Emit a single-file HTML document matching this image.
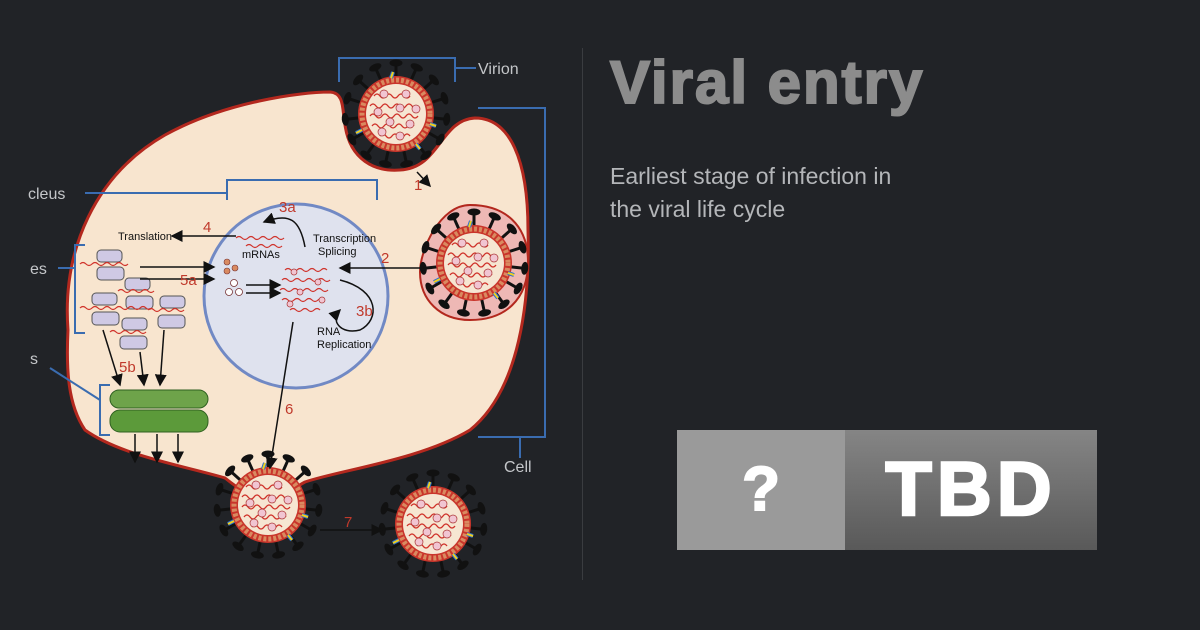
<!DOCTYPE html>
<html><head><meta charset="utf-8"><style>
body{margin:0;width:1200px;height:630px;background:#212327;overflow:hidden;position:relative;font-family:"Liberation Sans",sans-serif}
#title{position:absolute;left:610px;top:48px;font-size:60px;font-weight:900;color:#8c8c8c;letter-spacing:2px;-webkit-text-stroke:2px #8c8c8c}
#sub{position:absolute;left:610px;top:160px;font-size:23px;line-height:33px;color:#b4b6b9}
#div{position:absolute;left:582px;top:48px;width:1px;height:532px;background:#3a3c40}
#b1{position:absolute;left:677px;top:430px;width:168px;height:120px;background:#9a9a9a;color:#fff;font-size:62px;font-weight:bold;text-align:center;line-height:120px;-webkit-text-stroke:2px #fff}
#b2{position:absolute;left:845px;top:430px;width:252px;height:120px;background:linear-gradient(#858585,#595959);color:#fff;font-size:76px;font-weight:bold;text-align:center;line-height:120px;letter-spacing:5px;-webkit-text-stroke:2.5px #fff}
</style></head><body>
<svg width="583" height="630" style="position:absolute;left:0;top:0" font-family="Liberation Sans, sans-serif">
<defs>
<g id="sp"><line x1="0" y1="-36" x2="0" y2="-50" stroke="#111" stroke-width="3"/><ellipse cx="0" cy="-51" rx="6.5" ry="3.5" fill="#111"/></g>
<g id="vir">
<use href="#sp"/><use href="#sp" transform="rotate(24)"/><use href="#sp" transform="rotate(48)"/><use href="#sp" transform="rotate(72)"/><use href="#sp" transform="rotate(96)"/><use href="#sp" transform="rotate(120)"/><use href="#sp" transform="rotate(144)"/><use href="#sp" transform="rotate(168)"/><use href="#sp" transform="rotate(192)"/><use href="#sp" transform="rotate(216)"/><use href="#sp" transform="rotate(240)"/><use href="#sp" transform="rotate(264)"/><use href="#sp" transform="rotate(288)"/><use href="#sp" transform="rotate(312)"/><use href="#sp" transform="rotate(336)"/>
<circle r="38" fill="#c9352b"/><circle r="34" fill="none" stroke="#d98a60" stroke-width="5" stroke-dasharray="3 2"/>
<circle r="30" fill="#f6e6d2"/>
<path d="M-22,-18 q3,-4 6,0 t6,0 t6,0 t6,0 t6,0 t6,0 M-26,-8 q3,-4 6,0 t6,0 t6,0 t6,0 t6,0 t6,0 t6,0 t6,0 M-26,2 q3,-4 6,0 t6,0 t6,0 t6,0 t6,0 t6,0 t6,0 t6,0 M-24,12 q3,-4 6,0 t6,0 t6,0 t6,0 t6,0 t6,0 t6,0 M-16,22 q3,-4 6,0 t6,0 t6,0 t6,0 t6,0" fill="none" stroke="#d0322a" stroke-width="1.3"/>
<g fill="#f1c5d2" stroke="#a33" stroke-width=".7"><circle cx="-12" cy="-20" r="4"/><circle cx="10" cy="-20" r="4"/><circle cx="4" cy="-6" r="4"/><circle cx="-18" cy="-2" r="4"/><circle cx="20" cy="-5" r="4"/><circle cx="-6" cy="8" r="4"/><circle cx="14" cy="10" r="4"/><circle cx="-14" cy="18" r="4"/><circle cx="4" cy="22" r="4"/></g>
<g stroke="#2a6fd0" stroke-width="4"><line x1="-5" y1="-36" x2="-3" y2="-42"/><line x1="34" y1="10" x2="40" y2="12"/><line x1="-34" y1="16" x2="-40" y2="19"/><line x1="20" y1="30" x2="24" y2="35"/></g>
<g stroke="#f0d020" stroke-width="2"><line x1="-5" y1="-36" x2="-3" y2="-42"/><line x1="34" y1="10" x2="40" y2="12"/><line x1="-34" y1="16" x2="-40" y2="19"/><line x1="20" y1="30" x2="24" y2="35"/></g>
</g>
<marker id="ar" markerWidth="8" markerHeight="8" refX="7" refY="4" orient="auto"><path d="M0,0 L8,4 L0,8z" fill="#111"/></marker>
</defs>
<path d="M68,330 C62,250 95,175 165,135 C225,102 300,92 330,92 C345,93 342,110 345,125 C350,160 375,172 400,170 C440,168 440,120 475,118 C510,118 528,160 528,230 C530,300 520,390 470,430 C420,460 340,470 305,482 C290,490 280,500 268,500 C255,500 240,490 225,478 C180,465 120,455 85,430 C68,405 66,370 68,330 Z" fill="#f8e5cf" stroke="#b3281e" stroke-width="3"/>
<circle cx="296" cy="296" r="92" fill="#dfe2ee" stroke="#7189c4" stroke-width="3"/>
<path d="M470,205 C440,205 420,250 420,272 C420,300 440,320 470,320 C505,320 528,300 528,262 C528,225 505,205 470,205Z" fill="#eeb8b5" stroke="#b3281e" stroke-width="2"/>
<g transform="translate(474,263)"><use href="#vir"/></g>
<g transform="translate(396,114)"><use href="#vir"/></g>
<g transform="translate(268,505)"><use href="#vir"/></g>
<g transform="translate(433,524)"><use href="#vir"/></g>
<rect x="110" y="390" width="98" height="18" rx="9" fill="#6ea34a" stroke="#2f6020"/>
<rect x="110" y="410" width="98" height="22" rx="10" fill="#5c9a3a" stroke="#2f6020"/>
<g fill="#cfc9e4" stroke="#555" stroke-width="1"><rect x="97" y="250" width="25" height="12" rx="4"/><rect x="97" y="267" width="27" height="13" rx="4"/><rect x="92" y="293" width="25" height="12" rx="4"/><rect x="92" y="312" width="27" height="13" rx="4"/><rect x="125" y="278" width="25" height="12" rx="4"/><rect x="126" y="296" width="27" height="13" rx="4"/><rect x="160" y="296" width="25" height="12" rx="4"/><rect x="158" y="315" width="27" height="13" rx="4"/><rect x="122" y="318" width="25" height="12" rx="4"/><rect x="120" y="336" width="27" height="13" rx="4"/></g>
<path d="M80,264 q3,-3 6,0 t6,0 t6,0 t6,0 t6,0 t6,0 t6,0 t6,0 M80,308 q3,-3 6,0 t6,0 t6,0 t6,0 t6,0 t6,0 t6,0 t6,0 t6,0 t6,0 t6,0 t6,0 M118,291 q3,-3 6,0 t6,0 t6,0 t6,0 t6,0 t6,0 M148,310 q3,-3 6,0 t6,0 t6,0 t6,0 t6,0 t6,0 M110,332 q3,-3 6,0 t6,0 t6,0 t6,0 t6,0 t6,0 M236,238 q3,-3 6,0 t6,0 t6,0 t6,0 t6,0 t6,0 t6,0 t6,0 M246,246 q3,-3 6,0 t6,0 t6,0 t6,0 t6,0 t6,0" fill="none" stroke="#d0322a" stroke-width="1.2"/>
<path d="M285,270 q3,-3 6,0 t6,0 t6,0 t6,0 t6,0 t6,0 t6,0 M282,280 q3,-3 6,0 t6,0 t6,0 t6,0 t6,0 t6,0 t6,0 t6,0 M280,290 q3,-3 6,0 t6,0 t6,0 t6,0 t6,0 t6,0 t6,0 t6,0 M282,300 q3,-3 6,0 t6,0 t6,0 t6,0 t6,0 t6,0 t6,0 M290,310 q3,-3 6,0 t6,0 t6,0 t6,0 t6,0" fill="none" stroke="#d0322a" stroke-width="1.2"/>
<g fill="#f1c5d2" stroke="#a33" stroke-width=".7"><circle cx="294" cy="272" r="3"/><circle cx="318" cy="282" r="3"/><circle cx="300" cy="292" r="3"/><circle cx="322" cy="300" r="3"/><circle cx="290" cy="304" r="3"/></g>
<g fill="#d98a60" stroke="#733" stroke-width=".6"><circle cx="227" cy="262" r="3"/><circle cx="235" cy="268" r="3"/><circle cx="227" cy="271" r="3"/></g>
<g fill="#fff" stroke="#733" stroke-width=".8"><circle cx="234" cy="283" r="3.5"/><circle cx="229" cy="292" r="3.5"/><circle cx="239" cy="292" r="3.5"/></g>
<g stroke="#111" stroke-width="1.5" fill="none" marker-end="url(#ar)">
<line x1="417" y1="172" x2="430" y2="186"/>
<line x1="432" y1="268" x2="340" y2="268"/>
<line x1="236" y1="236" x2="172" y2="236"/>
<line x1="140" y1="267" x2="214" y2="267"/>
<line x1="140" y1="279" x2="214" y2="279"/>
<line x1="246" y1="285" x2="280" y2="285"/>
<line x1="246" y1="293" x2="280" y2="293"/>
<path d="M305,247 C300,220 290,212 264,222"/>
<path d="M340,280 C380,290 380,320 360,330 C340,335 330,320 340,310"/>
<line x1="293" y1="322" x2="270" y2="468"/>
<line x1="103" y1="330" x2="120" y2="385"/>
<line x1="140" y1="352" x2="144" y2="385"/>
<line x1="164" y1="330" x2="160" y2="385"/>
<line x1="135" y1="434" x2="135" y2="462"/>
<line x1="157" y1="434" x2="157" y2="462"/>
<line x1="178" y1="434" x2="178" y2="462"/>
<line x1="320" y1="530" x2="382" y2="530"/>
</g>
<g fill="#c0392b" font-size="15"><text x="414" y="190">1</text><text x="381" y="263">2</text><text x="279" y="212">3a</text><text x="356" y="316">3b</text><text x="203" y="232">4</text><text x="180" y="285">5a</text><text x="119" y="372">5b</text><text x="285" y="414">6</text><text x="344" y="527">7</text></g>
<g fill="#111" font-size="11"><text x="118" y="240">Translation</text><text x="242" y="258">mRNAs</text><text x="313" y="242">Transcription</text><text x="318" y="255">Splicing</text><text x="317" y="335">RNA</text><text x="317" y="348">Replication</text></g>
<g stroke="#3a6cb0" stroke-width="2" fill="none">
<path d="M339,82 V58 H455 V82 M455,68 H476"/>
<path d="M478,108 H545 V437 H478 M520,437 V458"/>
<path d="M227,200 V180 H377 V200 M227,193 H85"/>
<path d="M85,245 H75 V333 H85 M75,268 H58"/>
<path d="M110,385 H100 V435 H110 M100,400 L50,368"/>
</g>
<g fill="#c4c6c9" font-size="16"><text x="478" y="74">Virion</text><text x="504" y="472">Cell</text><text x="28" y="199">cleus</text><text x="30" y="274">es</text><text x="30" y="364">s</text></g>
</svg>
<div id="div"></div>
<div id="title">Viral entry</div>
<div id="sub">Earliest stage of infection in<br>the viral life cycle</div>
<div id="b1">?</div><div id="b2">TBD</div>
</body></html>
